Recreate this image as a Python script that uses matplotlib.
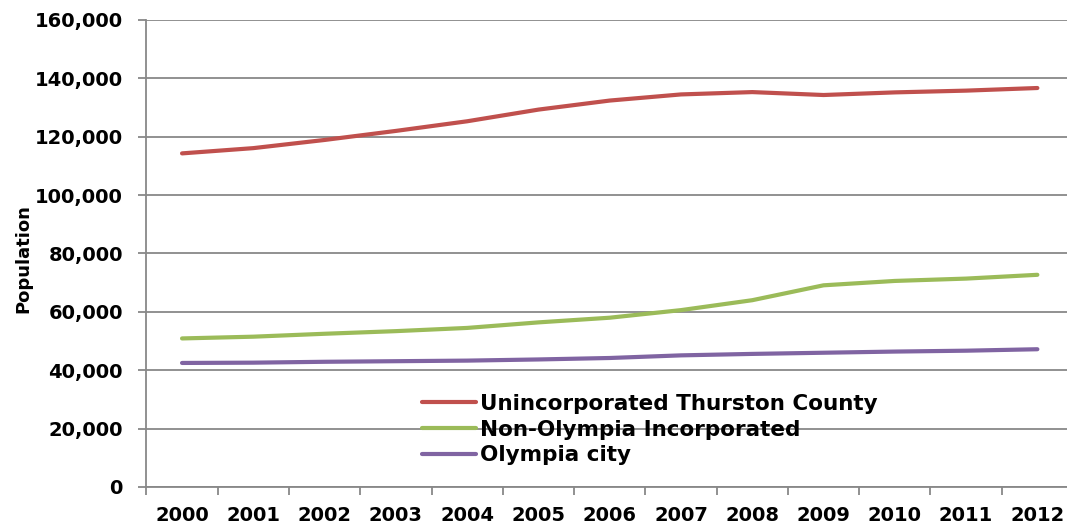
import matplotlib
matplotlib.use("Agg")
import matplotlib.pyplot as plt
from matplotlib.ticker import FuncFormatter, FixedLocator

years = ["2000", "2001", "2002", "2003", "2004", "2005", "2006",
         "2007", "2008", "2009", "2010", "2011", "2012"]
unincorporated = [114300, 116100, 118900, 122000, 125300, 129300, 132400,
                  134500, 135300, 134300, 135200, 135800, 136700]
non_olympia = [50900, 51500, 52500, 53400, 54500, 56400, 58000,
               60600, 64000, 69100, 70600, 71400, 72700]
olympia = [42500, 42600, 42900, 43100, 43300, 43700, 44200,
           45100, 45600, 46000, 46400, 46700, 47200]

series_labels = ["Unincorporated Thurston County",
                 "Non-Olympia Incorporated",
                 "Olympia city"]
series_colors = ["#C0504D", "#9BBB59", "#8064A2"]

W, H = 1067, 526
fig = plt.figure(figsize=(W / 100, H / 100), dpi=100)
x0, x1, y0, y1 = 146.4, 1073.0, 20.0, 487.0
ax = fig.add_axes([x0 / W, (H - y1) / H, (x1 - x0) / W, (y1 - y0) / H])

font = {"family": "DejaVu Sans", "weight": "bold"}
grid_color = "#888888"

xs = list(range(len(years)))
for vals, lab, col in zip([unincorporated, non_olympia, olympia],
                          series_labels, series_colors):
    ax.plot(xs, vals, color=col, lw=3.0, label=lab,
            solid_capstyle="round", solid_joinstyle="round", zorder=3)

ax.set_xlim(-0.5, len(years) - 0.5)
ax.set_ylim(0, 160000)

# category axis: tick marks on boundaries, labels at centres
ax.xaxis.set_major_locator(FixedLocator([i - 0.5 for i in range(len(years) + 1)]))
ax.xaxis.set_minor_locator(FixedLocator(xs))
ax.set_xticklabels([])
ax.set_xticklabels(years, minor=True, fontdict=font, fontsize=14)
ax.tick_params(axis="x", which="major", direction="out", length=5.5,
               width=1.3, color=grid_color)
ax.tick_params(axis="x", which="minor", length=0, pad=14)

ax.set_yticks(range(0, 160001, 20000))
ax.yaxis.set_major_formatter(FuncFormatter(lambda v, p: f"{int(v):,}"))
for t in ax.get_yticklabels():
    t.set_fontfamily("DejaVu Sans")
    t.set_fontweight("bold")
    t.set_fontsize(14)
ax.tick_params(axis="y", direction="out", length=6, width=1.3,
               color=grid_color, pad=11)

ax.grid(axis="y", color=grid_color, lw=1.3, zorder=1)
ax.set_axisbelow(True)

for side in ["top", "right"]:
    ax.spines[side].set_visible(False)
for side in ["left", "bottom"]:
    ax.spines[side].set_color(grid_color)
    ax.spines[side].set_linewidth(1.3)

ax.set_ylabel("Population", fontdict=font, fontsize=13)
ax.yaxis.set_label_coords(-(x0 - 32) / (x1 - x0), 0.49)

leg = ax.legend(loc="upper left",
                bbox_to_anchor=((422 - x0) / (x1 - x0), 1 - (394 - y0) / (y1 - y0)),
                frameon=False, prop={"family": "DejaVu Sans", "weight": "bold",
                                     "size": 15.5},
                handlelength=2.5, handletextpad=0.2, labelspacing=0.26,
                borderpad=0, borderaxespad=0)

fig.savefig("out.png", dpi=100)
